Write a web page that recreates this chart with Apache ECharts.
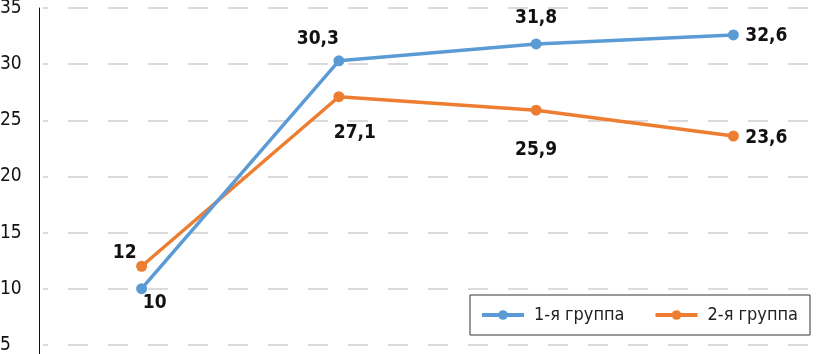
<!DOCTYPE html>
<html>
<head>
<meta charset="utf-8">
<script src="https://cdn.jsdelivr.net/npm/echarts@6/dist/echarts.min.js"></script>
<style>
html, body { margin: 0; padding: 0; background: #fff; overflow: hidden; }
#chart { width: 840px; height: 420px; }
</style>
</head>
<body>
<div id="chart"></div>
<script>
var categories = ["1", "2", "3", "4"];
var seriesNames = ["1-я группа", "2-я группа"];
var group1 = [10, 30.3, 31.8, 32.6];
var group2 = [12, 27.1, 25.9, 23.6];

var FONT = '"DejaVu Sans Condensed", "Liberation Sans Narrow", sans-serif';

function makeData(values, offsets) {
	var out = [];
	for (var i = 0; i < values.length; i++) {
		out.push({
			value: values[i],
			label: { position: 'inside', offset: offsets[i] }
		});
	}
	return out;
}

var labelStyle = {
	show: true,
	color: '#111',
	fontFamily: FONT,
	fontWeight: 'bold',
	fontSize: 19,
	formatter: function (p) { return String(p.value).replace('.', ','); }
};

// the chart is cropped at the bottom: the div is taller than the window
var option = {
	animation: false,
	grid: { left: 43, right: 8, top: 8, bottom: 19, outerBoundsMode: 'none' },
	legend: {
		left: 470,
		top: 295,
		padding: [11, 12, 11, 10],
		borderColor: '#333',
		borderWidth: 1,
		backgroundColor: '#fff',
		itemGap: 29,
		itemWidth: 42,
		itemHeight: 12,
		lineStyle: { width: 4 },
		textStyle: { fontFamily: FONT, fontSize: 18, color: '#222', padding: [0, 0, 0, 5] },
		data: seriesNames
	},
	xAxis: {
		type: 'category',
		data: categories,
		boundaryGap: true,
		axisLine: { show: false },
		axisTick: { show: false },
		axisLabel: { show: false }
	},
	yAxis: {
		type: 'value',
		min: 0,
		max: 35,
		interval: 5,
		offset: 4,
		axisLine: { show: true, lineStyle: { color: '#111', width: 1 } },
		axisTick: { show: false },
		axisLabel: {
			color: '#111',
			fontFamily: FONT,
			fontSize: 19,
			align: 'left',
			margin: 39
		},
		splitLine: {
			show: true,
			lineStyle: { color: '#dadada', width: 2, type: [20, 20], dashOffset: 15 }
		}
	},
	series: [{
		name: seriesNames[0],
		type: 'line',
		data: makeData(group1, [[13, 14], [-21, -22], [0, -26], [33, 1]]),
		color: '#5b9bd5',
		lineStyle: { width: 3.5 },
		symbol: 'circle',
		symbolSize: 11,
		label: labelStyle,
		z: 3
	}, {
		name: seriesNames[1],
		type: 'line',
		data: makeData(group2, [[-17, -13], [16, 36], [0, 40], [33, 2]]),
		color: '#ed7d31',
		lineStyle: { width: 3.5 },
		symbol: 'circle',
		symbolSize: 11,
		label: labelStyle,
		z: 2
	}]
};

var myChart = echarts.init(document.getElementById('chart'));
myChart.setOption(option);
</script>
</body>
</html>
